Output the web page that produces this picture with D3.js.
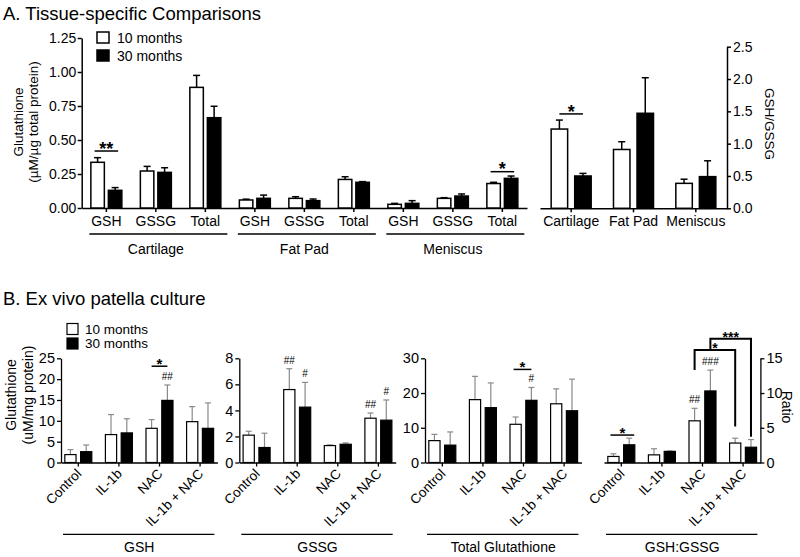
<!DOCTYPE html>
<html>
<head>
<meta charset="utf-8">
<script src="https://cdn.jsdelivr.net/npm/d3@7"></script>
<style>
  body { margin: 0; background: #fff; }
  svg { display: block; font-family: "Liberation Sans", Arial, sans-serif; }
</style>
</head>
<body>
<div id="chart"></div>
<script>
// ---- Panel A: tissue-specific comparisons ----
const tissues = ['Cartilage', 'Fat Pad', 'Meniscus'];
const measures = ['GSH', 'GSSG', 'Total'];
const ages = ['10 months', '30 months'];

// glutathione, µM/µg total protein (Cartilage GSH, GSSG, Total, Fat Pad ..., Meniscus ...)
const tissueMean10 = [0.336, 0.272, 0.887, 0.059, 0.071, 0.210, 0.027, 0.071, 0.180];
const tissueErr10  = [0.034, 0.034, 0.088, 0.006, 0.012, 0.020, 0.007, 0.005, 0.009];
const tissueMean30 = [0.130, 0.262, 0.664, 0.071, 0.054, 0.189, 0.034, 0.088, 0.218];
const tissueErr30  = [0.020, 0.034, 0.084, 0.024, 0.012, 0.005, 0.020, 0.015, 0.017];

// GSH/GSSG ratio per tissue
const ratioMean10 = [1.226, 0.91, 0.386];
const ratioErr10  = [0.139, 0.12, 0.064];
const ratioMean30 = [0.50, 1.47, 0.49];
const ratioErr30  = [0.04, 0.55, 0.245];

// ---- Panel B: ex vivo patella culture ----
const treatments = ['Control', 'IL-1b', 'NAC', 'IL-1b + NAC'];

const gshMean10 = [1.9, 6.7, 8.2, 9.8];
const gshErr10  = [1.2, 4.8, 2.1, 3.6];
const gshMean30 = [2.6, 7.1, 14.9, 8.2];
const gshErr30  = [1.6, 3.4, 3.7, 6.1];

const gssgMean10 = [2.1, 5.6, 1.3, 3.4];
const gssgErr10  = [0.3, 1.6, 0.05, 0.4];
const gssgMean30 = [1.15, 4.25, 1.4, 3.25];
const gssgErr30  = [1.1, 1.9, 0.1, 1.55];

const totalMean10 = [6.3, 18.1, 11.0, 16.9];
const totalErr10  = [1.8, 6.7, 2.1, 4.3];
const totalMean30 = [5.0, 15.8, 17.9, 14.9];
const totalErr30  = [3.8, 7.1, 3.7, 9.1];

const ratioBMean10 = [0.87, 1.1, 6.0, 2.8];
const ratioBErr10  = [0.38, 0.88, 1.8, 0.7];
const ratioBMean30 = [2.55, 1.6, 10.3, 2.2];
const ratioBErr30  = [0.95, 0.05, 3.0, 1.1];

// [panel, treatment, age index, mark]
const hashMarks = [
  ['GSH', 'NAC', 1, '##'],
  ['GSSG', 'IL-1b', 0, '##'],
  ['GSSG', 'IL-1b', 1, '#'],
  ['GSSG', 'IL-1b + NAC', 0, '##'],
  ['GSSG', 'IL-1b + NAC', 1, '#'],
  ['Total', 'NAC', 1, '#'],
  ['Ratio', 'NAC', 0, '##'],
  ['Ratio', 'NAC', 1, '###']
];

const W = 800, H = 557;
const svg = d3.select('#chart').append('svg')
  .attr('width', W)
  .attr('height', H);

svg.append('rect').attr('width', W).attr('height', H).attr('fill', '#fff');

function rows(cats, m10, e10, m30, e30) {
  const out = [];
  cats.forEach((c, i) => {
    out.push({ cat: c, age: ages[0], mean: m10[i], err: e10[i] });
    out.push({ cat: c, age: ages[1], mean: m30[i], err: e30[i] });
  });
  return out;
}

function drawBars(g, data, x, sub, y, opt) {
  const w = sub.bandwidth();
  const cx = d => x(d.cat) + sub(d.age) + w / 2;

  const eb = g.append('g').attr('stroke', opt.errColor).attr('stroke-width', opt.errWidth);
  eb.selectAll('line.v')
    .data(data)
    .join('line')
    .attr('class', 'v')
    .attr('x1', cx).attr('x2', cx)
    .attr('y1', d => y(d.mean))
    .attr('y2', d => y(d.mean + d.err));
  eb.selectAll('line.cap')
    .data(data)
    .join('line')
    .attr('class', 'cap')
    .attr('x1', d => cx(d) - opt.cap / 2)
    .attr('x2', d => cx(d) + opt.cap / 2)
    .attr('y1', d => y(d.mean + d.err))
    .attr('y2', d => y(d.mean + d.err));

  g.append('g').selectAll('rect')
    .data(data)
    .join('rect')
    .attr('x', d => x(d.cat) + sub(d.age))
    .attr('y', d => y(d.mean))
    .attr('width', w)
    .attr('height', d => y(0) - y(d.mean))
    .attr('fill', d => d.age === ages[0] ? '#fff' : '#000')
    .attr('stroke', '#000')
    .attr('stroke-width', opt.barStroke);
}

function sigLine(g, x1, x2, yPix, label, size) {
  g.append('line')
    .attr('x1', x1).attr('x2', x2)
    .attr('y1', yPix).attr('y2', yPix)
    .attr('stroke', '#000').attr('stroke-width', 1.5);
  g.append('text')
    .attr('x', (x1 + x2) / 2)
    .attr('y', yPix + size * 0.2)
    .attr('text-anchor', 'middle')
    .attr('font-size', size)
    .attr('font-weight', 'bold')
    .text(label);
}

function styleAxis(sel, width, size) {
  sel.selectAll('path, line').attr('stroke', '#000').attr('stroke-width', width);
  sel.selectAll('text').attr('fill', '#000').attr('font-size', size);
}

// ================= Panel A =================
svg.append('text')
  .attr('x', 3).attr('y', 20)
  .attr('font-size', 18.5)
  .text('A. Tissue-specific Comparisons');

const gA = svg.append('g');
const catsA = d3.cross(tissues, measures).map(d => d.join('|'));

const xA = d3.scaleBand().domain(catsA).range([81.7, 527]).paddingInner(0.374).paddingOuter(0.185);
const subA = d3.scaleBand().domain(ages).range([0, xA.bandwidth()]).paddingInner(0.23);
const yA = d3.scaleLinear().domain([0, 1.25]).range([208, 38]);

gA.append('g')
  .attr('transform', 'translate(81.7,0)')
  .call(d3.axisLeft(yA).tickValues([0, 0.25, 0.5, 0.75, 1, 1.25]).tickFormat(d3.format('.2f')).tickSize(4).tickSizeOuter(0).tickPadding(1.5))
  .call(s => styleAxis(s, 1.5, 14));

gA.append('g')
  .attr('transform', 'translate(0,208)')
  .call(d3.axisBottom(xA).tickFormat(d => d.split('|')[1]).tickSize(4).tickSizeOuter(0).tickPadding(4))
  .call(s => styleAxis(s, 1.5, 14));

drawBars(gA, rows(catsA, tissueMean10, tissueErr10, tissueMean30, tissueErr30), xA, subA, yA,
  { errColor: '#000', errWidth: 1.5, cap: 7, barStroke: 1.5 });

// tissue group underlines
tissues.forEach(t => {
  const c0 = xA(t + '|' + measures[0]) + xA.bandwidth() / 2;
  const c1 = xA(t + '|' + measures[2]) + xA.bandwidth() / 2;
  gA.append('line')
    .attr('x1', c0 - 17).attr('x2', c1 + 22)
    .attr('y1', 234).attr('y2', 234)
    .attr('stroke', '#000').attr('stroke-width', 1.5);
  gA.append('text')
    .attr('x', (c0 + c1) / 2).attr('y', 254)
    .attr('text-anchor', 'middle').attr('font-size', 14)
    .text(t);
});

// significance, panel A
{
  const c = 'Cartilage|GSH', m = 'Meniscus|Total', w = subA.bandwidth();
  sigLine(gA, xA(c) + subA(ages[0]) + w / 2 - 3, xA(c) + subA(ages[1]) + w / 2 + 3, yA(0.419), '**', 18);
  sigLine(gA, xA(m) + subA(ages[0]) + w / 2 - 3, xA(m) + subA(ages[1]) + w / 2 + 3, yA(0.267), '*', 18);
}

// legend A
const legA = svg.append('g').attr('transform', 'translate(97,32)');
ages.forEach((a, i) => {
  legA.append('rect')
    .attr('x', 0).attr('y', i * 18)
    .attr('width', 12).attr('height', 11)
    .attr('fill', i ? '#000' : '#fff')
    .attr('stroke', '#000').attr('stroke-width', 1.5);
  legA.append('text')
    .attr('x', 20).attr('y', i * 18 + 10.5)
    .attr('font-size', 14)
    .text(a);
});

// y label A
svg.append('text')
  .attr('transform', 'translate(23,122) rotate(-90)')
  .attr('text-anchor', 'middle').attr('font-size', 13.5)
  .text('Glutathione');
svg.append('text')
  .attr('transform', 'translate(38,122) rotate(-90)')
  .attr('text-anchor', 'middle').attr('font-size', 13.5)
  .text('(\u00b5M/\u00b5g total protein)');

// ---- A right: GSH/GSSG ratio ----
const gR = svg.append('g');
const xR = d3.scaleBand().domain(tissues).range([540, 727]).paddingInner(0.358).paddingOuter(0.179);
const subR = d3.scaleBand().domain(ages).range([0, xR.bandwidth()]).paddingInner(0.3);
const yR = d3.scaleLinear().domain([0, 2.5]).range([208.3, 46.7]);

gR.append('g')
  .attr('transform', 'translate(727,0)')
  .call(d3.axisRight(yR).tickValues([0, 0.5, 1, 1.5, 2, 2.5]).tickFormat(d3.format('.1f')).tickSize(4).tickSizeOuter(0).tickPadding(2))
  .call(s => styleAxis(s, 1.5, 14));

gR.append('g')
  .attr('transform', 'translate(0,208.3)')
  .call(d3.axisBottom(xR).tickSize(4).tickSizeOuter(0).tickPadding(4))
  .call(s => styleAxis(s, 1.5, 14));

drawBars(gR, rows(tissues, ratioMean10, ratioErr10, ratioMean30, ratioErr30), xR, subR, yR,
  { errColor: '#000', errWidth: 1.5, cap: 7, barStroke: 1.5 });

{
  const w = subR.bandwidth();
  sigLine(gR, xR('Cartilage') + subR(ages[0]) + w / 2, xR('Cartilage') + subR(ages[1]) + w / 2, yR(1.46), '*', 18);
}

svg.append('text')
  .attr('transform', 'translate(765,124) rotate(90)')
  .attr('text-anchor', 'middle').attr('font-size', 13.5)
  .text('GSH/GSSG');

// ================= Panel B =================
svg.append('text')
  .attr('x', 3).attr('y', 305)
  .attr('font-size', 18.5)
  .text('B. Ex vivo patella culture');

const legB = svg.append('g').attr('transform', 'translate(67,323.5)');
ages.forEach((a, i) => {
  legB.append('rect')
    .attr('x', 0).attr('y', i * 14.5)
    .attr('width', 11).attr('height', 11)
    .attr('fill', i ? '#000' : '#fff')
    .attr('stroke', '#000').attr('stroke-width', 1.2);
  legB.append('text')
    .attr('x', 18).attr('y', i * 14.5 + 10)
    .attr('font-size', 13.5)
    .text(a);
});

const panelsB = [
  { key: 'GSH', title: 'GSH', x0: 61, max: 25, step: 5,
    data: rows(treatments, gshMean10, gshErr10, gshMean30, gshErr30) },
  { key: 'GSSG', title: 'GSSG', x0: 239.3, max: 8, step: 2,
    data: rows(treatments, gssgMean10, gssgErr10, gssgMean30, gssgErr30) },
  { key: 'Total', title: 'Total Glutathione', x0: 425, max: 30, step: 10,
    data: rows(treatments, totalMean10, totalErr10, totalMean30, totalErr30) },
  { key: 'Ratio', title: 'GSH:GSSG', x0: 604, max: 15, step: 5, right: true,
    data: rows(treatments, ratioBMean10, ratioBErr10, ratioBMean30, ratioBErr30) }
];

const yB0 = 462.5, yB1 = 358.3, panelW = 156.4;

panelsB.forEach(p => {
  const g = svg.append('g');
  const x = d3.scaleBand().domain(treatments).range([p.x0, p.x0 + panelW]).paddingInner(0.335).paddingOuter(0.094);
  const sub = d3.scaleBand().domain(ages).range([0, x.bandwidth()]).paddingInner(0.29);
  const y = d3.scaleLinear().domain([0, p.max]).range([yB0, yB1]);
  p.x = x; p.sub = sub; p.y = y; p.g = g;

  const axis = p.right ? d3.axisRight(y) : d3.axisLeft(y);
  g.append('g')
    .attr('transform', `translate(${p.right ? p.x0 + panelW : p.x0},0)`)
    .call(axis.tickValues(d3.range(0, p.max + 0.01, p.step)).tickSize(4).tickSizeOuter(0).tickPadding(2))
    .call(s => styleAxis(s, 1.3, 14.5));

  const xa = g.append('g')
    .attr('transform', `translate(0,${yB0})`)
    .call(d3.axisBottom(x).tickSize(4).tickSizeOuter(0))
    .call(s => styleAxis(s, 1.3, 13.5));
  xa.selectAll('.tick text')
    .attr('text-anchor', 'end')
    .attr('dy', null)
    .attr('y', null)
    .attr('transform', 'translate(4,12) rotate(-45)');

  drawBars(g, p.data, x, sub, y, { errColor: '#8a8a8a', errWidth: 1.2, cap: 6, barStroke: 1.2 });

  g.append('line')
    .attr('x1', p.x0 + 2).attr('x2', p.x0 + panelW - 3)
    .attr('y1', 534.3).attr('y2', 534.3)
    .attr('stroke', '#000').attr('stroke-width', 1.3);
  g.append('text')
    .attr('x', p.x0 + panelW / 2).attr('y', 552)
    .attr('text-anchor', 'middle').attr('font-size', 14)
    .text(p.title);
});

const byKey = Object.fromEntries(panelsB.map(p => [p.key, p]));
function barCx(p, t, a) { return p.x(t) + p.sub(ages[a]) + p.sub.bandwidth() / 2; }

hashMarks.forEach(([k, t, a, mark]) => {
  const p = byKey[k];
  const d = p.data.find(r => r.cat === t && r.age === ages[a]);
  p.g.append('text')
    .attr('x', barCx(p, t, a))
    .attr('y', p.y(d.mean + d.err) - 5)
    .attr('text-anchor', 'middle')
    .attr('font-size', 10)
    .text(mark);
});

{
  const p = byKey.GSH;
  sigLine(p.g, barCx(p, 'NAC', 0), barCx(p, 'NAC', 1), p.y(23.1), '*', 15);
  const q = byKey.Total;
  sigLine(q.g, barCx(q, 'NAC', 0) - 2, barCx(q, 'NAC', 1), q.y(26.8), '*', 15);
  const r = byKey.Ratio;
  sigLine(r.g, barCx(r, 'Control', 0) - 3, barCx(r, 'Control', 1) + 5, r.y(3.95), '*', 15);

  // brackets NAC vs IL-1b + NAC
  const brackets = [
    { a: 0, top: 16.2, lb: 13.3, rb: 5.2, label: '*' },
    { a: 1, top: 17.8, lb: 16.2, rb: 3.7, label: '***' }
  ];
  brackets.forEach(b => {
    const x1 = barCx(r, 'NAC', b.a), x2 = barCx(r, 'IL-1b + NAC', b.a);
    r.g.append('path')
      .attr('d', `M${x1},${r.y(b.lb)}V${r.y(b.top)}H${x2}V${r.y(b.rb)}`)
      .attr('fill', 'none').attr('stroke', '#000').attr('stroke-width', 2);
    r.g.append('text')
      .attr('x', (x1 + x2) / 2).attr('y', r.y(b.top) + 3)
      .attr('text-anchor', 'middle').attr('font-size', 14).attr('font-weight', 'bold')
      .text(b.label);
  });
}

svg.append('text')
  .attr('transform', 'translate(16,395) rotate(-90)')
  .attr('text-anchor', 'middle').attr('font-size', 14)
  .text('Glutathione');
svg.append('text')
  .attr('transform', 'translate(33,395) rotate(-90)')
  .attr('text-anchor', 'middle').attr('font-size', 14)
  .text('(uM/mg protein)');
svg.append('text')
  .attr('transform', 'translate(782,407) rotate(90)')
  .attr('text-anchor', 'middle').attr('font-size', 14)
  .text('Ratio');
</script>
</body>
</html>
